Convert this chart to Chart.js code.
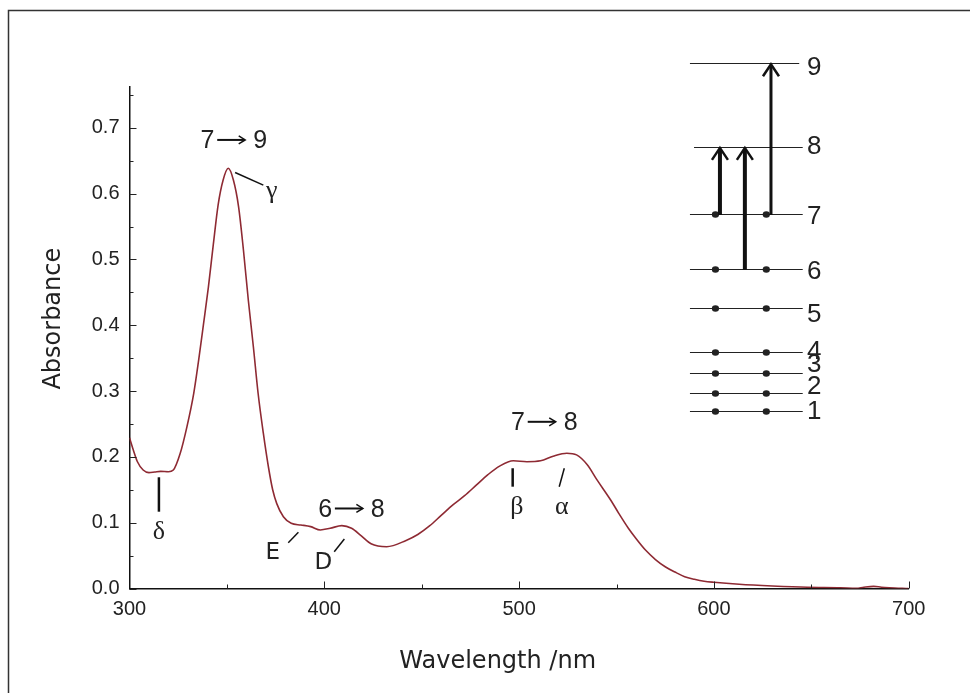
<!DOCTYPE html>
<html>
<head>
<meta charset="utf-8">
<script src="https://cdn.jsdelivr.net/npm/chart.js@4/dist/chart.umd.min.js"></script>
<style>
  html, body { margin: 0; padding: 0; background: #fff; }
</style>
</head>
<body>
<canvas id="spectrum" width="970" height="693"></canvas>
<script>
// absorption spectrum
const wavelength = [300,302,304,307,310,313,316,320,322.5,326,329.5,333,335.5,338,340.5,343,345.5,348,350.7,353.3,
  356,358.5,361,363.6,366,368.7,371.3,373.5,375.6,379,383,388,393,398,403,409,414,419,424,432,
  442,448,454,460,466,472,478,484,490,497,504,511,517.5,524.5,529.5,535,540,547,551,556,
  560,565,570,575,580,585,590,595,600,613,630,648,665,673,677,682,686,690,700];
const absorbance = [0.229,0.21,0.193,0.18,0.176,0.177,0.178,0.1775,0.18,0.205,0.246,0.297,0.347,0.402,0.458,0.522,0.583,0.62,0.6385,0.621,
  0.58,0.514,0.438,0.367,0.297,0.236,0.185,0.15,0.129,0.109,0.099,0.0965,0.094,0.089,0.0915,0.0955,0.0915,0.08,0.068,0.0635,
  0.073,0.082,0.095,0.111,0.127,0.141,0.157,0.173,0.186,0.194,0.1927,0.194,0.201,0.2055,0.203,0.188,0.165,0.1345,0.115,0.092,
  0.076,0.058,0.044,0.033,0.025,0.018,0.014,0.011,0.0094,0.0064,0.0038,0.0018,0.0012,0.0003,0.002,0.0033,0.002,0.0012,0.0];

const xTicks = [300, 400, 500, 600, 700];
const yTicks = [0.0, 0.1, 0.2, 0.3, 0.4, 0.5, 0.6, 0.7];

// band labels (greek/latin) with leader lines, in data units
const bandNames = ['γ', 'δ', 'E', 'D', 'β', 'α'];
const bandTextAt = [[373.0, 0.603], [315.1, 0.0863], [373.5, 0.0544], [399.5, 0.0383], [498.8, 0.1238], [521.9, 0.1238]];
const bandLeader = [[354.2, 0.632, 368.7, 0.613], [315.1, 0.169, 315.1, 0.1167], [381.5, 0.0696, 386.7, 0.0854],
  [405.1, 0.0559, 410.3, 0.0752], [496.7, 0.1827, 496.7, 0.1547], [523.2, 0.1827, 520.6, 0.1547]];

// orbital transitions written above the bands
const transFrom = [7, 6, 7];
const transTo = [9, 8, 8];
const transAt = [[353.5, 0.6793], [413.9, 0.1193], [512.9, 0.251]];

// energy level inset (placed in data units)
const levelNames = ['1', '2', '3', '4', '5', '6', '7', '8', '9'];
const levelY = [0.270, 0.297, 0.327, 0.359, 0.426, 0.486, 0.569, 0.671, 0.798];
const levelLabelY = [0.2686, 0.3066, 0.3396, 0.3598, 0.4156, 0.4813, 0.5650, 0.6711, 0.7905];
const occupied = 7;
const electronX = [600.8, 626.9];
const jumpFrom = [7, 6, 7];
const jumpTo = [8, 8, 9];
const jumpX = [603.1, 615.9, 629.3];

const sans = '"Liberation Sans", Arial, sans-serif';
const round = '"DejaVu Sans", sans-serif';
const serif = '"Liberation Serif", "DejaVu Serif", serif';

function chevron(ctx, x, y, dx, dy, w) {
  ctx.beginPath();
  ctx.moveTo(x - w, y + dy);
  ctx.lineTo(x, y);
  ctx.lineTo(x + w, y + dy);
  ctx.stroke();
}

const decorations = {
  id: 'decorations',
  afterDraw(chart) {
    const {ctx, chartArea} = chart;
    const X = v => chart.scales.x.getPixelForValue(v);
    const Y = v => chart.scales.y.getPixelForValue(v);
    ctx.save();

    // outer frame
    ctx.strokeStyle = '#333';
    ctx.lineWidth = 1.5;
    ctx.beginPath();
    ctx.moveTo(8.5, 700); ctx.lineTo(8.5, 10.5); ctx.lineTo(980, 10.5);
    ctx.stroke();

    // inward tick marks
    ctx.strokeStyle = '#222';
    ctx.lineWidth = 1;
    ctx.beginPath();
    for (let i = 0; i <= 15; i++) {
      const py = Math.round(Y(i * 0.05)) + 0.5;
      ctx.moveTo(chartArea.left, py);
      ctx.lineTo(chartArea.left + (i % 2 ? 4 : 7), py);
    }
    for (let i = 1; i <= 8; i++) {
      const px = Math.round(X(300 + i * 50)) + 0.5;
      ctx.moveTo(px, chartArea.bottom);
      ctx.lineTo(px, chartArea.bottom - (i % 2 ? 4 : 7));
    }
    ctx.stroke();

    // axis titles
    ctx.fillStyle = '#222';
    ctx.font = '24px ' + round;
    ctx.textAlign = 'center';
    ctx.textBaseline = 'middle';
    ctx.fillText('Wavelength /nm', X(489), chartArea.bottom + 73);
    ctx.save();
    ctx.translate(chartArea.left - 76, Y(0.41));
    ctx.rotate(-Math.PI / 2);
    ctx.fillText('Absorbance', 0, 0);
    ctx.restore();

    // band labels
    bandNames.forEach((name, i) => {
      const [x1, y1, x2, y2] = bandLeader[i];
      ctx.strokeStyle = '#111';
      ctx.lineWidth = (name === 'δ' || name === 'β') ? 2.5 : 1.5;
      ctx.beginPath();
      ctx.moveTo(X(x1), Y(y1)); ctx.lineTo(X(x2), Y(y2));
      ctx.stroke();
      const latin = name === 'E' || name === 'D';
      ctx.font = latin ? '23px ' + round : '26px ' + serif;
      ctx.fillText(name, X(bandTextAt[i][0]), Y(bandTextAt[i][1]));
    });

    // transitions 7->9 etc
    ctx.font = '25px ' + sans;
    transFrom.forEach((f, i) => {
      const cx = X(transAt[i][0]), cy = Y(transAt[i][1]);
      ctx.fillText(String(f), cx - 26.3, cy);
      ctx.fillText(String(transTo[i]), cx + 26.4, cy);
      ctx.strokeStyle = '#111';
      ctx.lineWidth = 2;
      ctx.beginPath();
      ctx.moveTo(cx - 16.5, cy - 1.5); ctx.lineTo(cx + 11, cy - 1.5);
      ctx.stroke();
      ctx.lineWidth = 1.5;
      ctx.beginPath();
      ctx.moveTo(cx + 5, cy - 5.5); ctx.lineTo(cx + 11.5, cy - 1.5); ctx.lineTo(cx + 5, cy + 2.5);
      ctx.stroke();
    });

    // energy levels
    levelY.forEach((e, i) => {
      const py = Math.round(Y(e)) + 0.5;
      const x0 = i === 7 ? 589.8 : 587.7;
      const x1 = i === 8 ? 643.8 : 645.6;
      ctx.strokeStyle = '#222';
      ctx.lineWidth = 1;
      ctx.beginPath();
      ctx.moveTo(X(x0), py); ctx.lineTo(X(x1), py);
      ctx.stroke();
      ctx.font = '26px ' + sans;
      ctx.textAlign = 'center';
      ctx.fillText(levelNames[i], X(651.5), Y(levelLabelY[i]));
      if (i < occupied) {
        electronX.forEach(ex => {
          ctx.beginPath();
          ctx.ellipse(X(ex), py, 3.6, 3.3, 0, 0, Math.PI * 2);
          ctx.fill();
        });
      }
    });

    // excitation arrows
    ctx.strokeStyle = '#111';
    jumpFrom.forEach((f, i) => {
      const px = X(jumpX[i]);
      const y0 = Y(levelY[f - 1]) + 1, y1 = Y(levelY[jumpTo[i] - 1]);
      ctx.lineWidth = i === 2 ? 3 : 4;
      ctx.beginPath();
      ctx.moveTo(px, y0); ctx.lineTo(px, y1 + 2);
      ctx.stroke();
      ctx.lineWidth = 2.5;
      chevron(ctx, px, y1 + 1, 0, 12, 8);
    });

    ctx.restore();
  }
};

new Chart(document.getElementById('spectrum'), {
  type: 'line',
  data: {
    datasets: [{
      label: 'Absorbance',
      data: wavelength.map((w, i) => ({x: w, y: absorbance[i]})),
      borderColor: '#8e2a33',
      borderWidth: 1.6,
      pointRadius: 0,
      fill: false,
      cubicInterpolationMode: 'monotone'
    }]
  },
  options: {
    responsive: false,
    animation: false,
    layout: { padding: { top: 87, right: 61.3, left: 0, bottom: 0 } },
    plugins: { legend: { display: false }, tooltip: { enabled: false } },
    scales: {
      x: {
        type: 'linear', min: 300, max: 700,
        afterFit: s => { s.height = 104.5; },
        afterBuildTicks: s => { s.ticks = xTicks.map(v => ({value: v})); },
        grid: { drawOnChartArea: false, drawTicks: false },
        border: { display: true, color: '#111', width: 1.5 },
        ticks: { padding: 9, color: '#222', font: { family: sans, size: 20 }, maxRotation: 0 }
      },
      y: {
        type: 'linear', min: 0, max: 0.762,
        afterFit: s => { s.width = 129.5; },
        afterBuildTicks: s => { s.ticks = yTicks.map(v => ({value: v})); },
        grid: { drawOnChartArea: false, drawTicks: false },
        border: { display: true, color: '#111', width: 1.5 },
        ticks: { padding: 10, color: '#222', font: { family: sans, size: 20 },
          callback: v => v.toFixed(1) }
      }
    }
  },
  plugins: [decorations]
});
</script>
</body>
</html>
